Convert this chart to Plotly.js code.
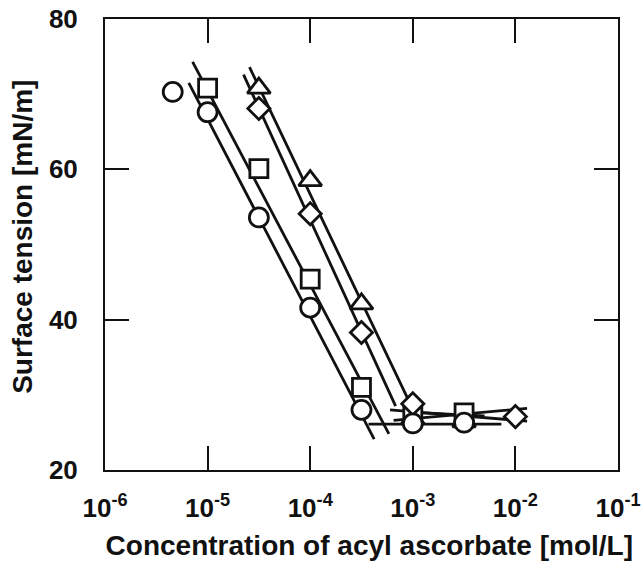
<!DOCTYPE html>
<html>
<head>
<meta charset="utf-8">
<script src="https://cdn.plot.ly/plotly-3.0.1.min.js"></script>
<style>html,body{margin:0;padding:0;background:#fff;}#chart{width:642px;height:561px;}</style>
</head>
<body>
<div id="chart"></div>
<script>
// Measured points
const circleX = [4.57e-6, 1e-5, 3.16e-5, 1e-4, 3.16e-4, 1e-3, 3.16e-3];
const circleY = [70.3, 67.6, 53.6, 41.6, 28.0, 26.2, 26.3];
const squareX = [1e-5, 3.16e-5, 1e-4, 3.16e-4, 1e-3, 3.16e-3];
const squareY = [70.8, 60.1, 45.4, 31.0, 27.3, 27.6];
const triangleX = [3.16e-5, 1e-4, 3.16e-4, 1e-3, 3.16e-3];
const triangleY = [70.8, 58.5, 42.1, 26.8, 26.4];
const diamondX = [3.16e-5, 1e-4, 3.16e-4, 1e-3, 1e-2];
const diamondY = [68.1, 54.1, 38.3, 28.8, 27.1];

// Fitted lines (endpoints)
const circleFitX = [6.55e-6, 4.2e-4];
const circleFitY = [71.5, 24.1];
const circleFlatX = [3.7e-4, 7.3e-3];
const circleFlatY = [26.1, 26.1];
const squareFitX = [7.14e-6, 5.85e-4];
const squareFitY = [74.3, 24.8];
const squareFlatX = [6.0e-4, 1.3e-2];
const squareFlatY = [28.0, 26.5];
const triangleFitX = [2.56e-5, 9.0e-4, 1.25e-3, 5.0e-3];
const triangleFitY = [73.6, 29.4, 27.6, 27.2];
const diamondFitX = [2.24e-5, 6.8e-4];
const diamondFitY = [72.6, 28.5];
const diamondFlatX = [6.5e-4, 1.3e-2];
const diamondFlatY = [26.6, 28.2];

const xTickVals = [1e-6, 1e-5, 1e-4, 1e-3, 1e-2, 1e-1];
const xTickText = ['10<sup>-6</sup>', '10<sup>-5</sup>', '10<sup>-4</sup>', '10<sup>-3</sup>', '10<sup>-2</sup>', '10<sup>-1</sup>'];
const yTickVals = [20, 40, 60, 80];

const lineStyle = {color: '#111', width: 2.8};
function fitLine(x, y) {
  return {x: x, y: y, mode: 'lines', line: lineStyle, hoverinfo: 'skip', showlegend: false};
}
function pts(x, y, symbol, size) {
  return {x: x, y: y, mode: 'markers', showlegend: false,
    marker: {symbol: symbol, size: size, color: '#fff', line: {color: '#111', width: 2.8}}};
}

const data = [
  fitLine(circleFitX, circleFitY), fitLine(circleFlatX, circleFlatY),
  fitLine(squareFitX, squareFitY), fitLine(squareFlatX, squareFlatY),
  fitLine(triangleFitX, triangleFitY),
  fitLine(diamondFitX, diamondFitY), fitLine(diamondFlatX, diamondFlatY),
  pts(triangleX, triangleY, 'triangle-up', 20),
  pts(squareX, squareY, 'square', 18),
  pts(diamondX, diamondY, 'diamond', 17),
  pts(circleX, circleY, 'circle', 19)
];

const fam = 'Liberation Sans, Arial, sans-serif';
const tickFont = {family: fam, size: 26, color: '#111', weight: 'bold'};
const layout = {
  width: 642, height: 561,
  margin: {l: 105, r: 24, t: 19, b: 91},
  paper_bgcolor: '#fff', plot_bgcolor: '#fff',
  xaxis: {
    type: 'log', range: [-6, -1],
    tickmode: 'array', tickvals: xTickVals, ticktext: xTickText,
    ticks: 'inside', ticklen: 24, tickwidth: 2, tickcolor: '#111',
    showline: true, linecolor: '#111', linewidth: 2, mirror: 'ticks',
    showgrid: false, zeroline: false, automargin: false,
    tickfont: tickFont, ticklabelstandoff: 14, ticklabeloverflow: 'allow',
    title: {text: '&nbsp;&nbsp;Concentration of acyl ascorbate [mol/L]', standoff: 18,
      font: {family: fam, size: 28, color: '#111', weight: 'bold'}}
  },
  yaxis: {
    range: [20, 80],
    tickmode: 'array', tickvals: yTickVals,
    ticks: 'inside', ticklen: 24, tickwidth: 2, tickcolor: '#111',
    showline: true, linecolor: '#111', linewidth: 2, mirror: 'ticks',
    showgrid: false, zeroline: false, automargin: false,
    tickfont: tickFont, ticklabelstandoff: 20,
    title: {text: '&nbsp;&nbsp;Surface tension [mN/m]', standoff: 8,
      font: {family: fam, size: 28, color: '#111', weight: 'bold'}}
  }
};

Plotly.newPlot('chart', data, layout, {staticPlot: true, displayModeBar: false});
</script>
</body>
</html>
